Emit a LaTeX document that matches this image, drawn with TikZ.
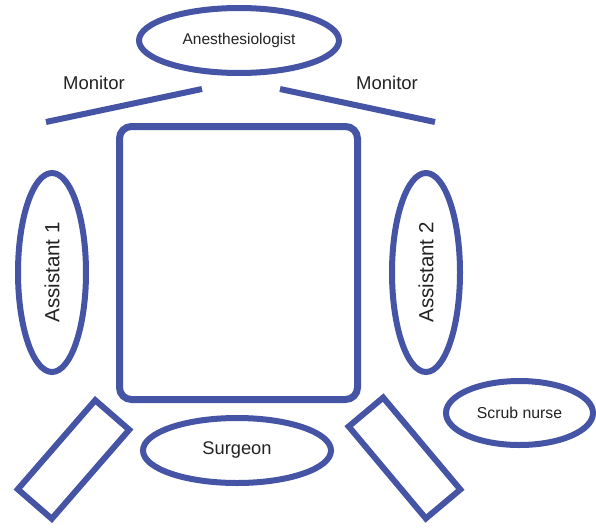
\documentclass[tikz,border=0pt]{standalone}
\usepackage{fontspec}
\setmainfont{Liberation Sans}
\usepackage{tikz}
\usetikzlibrary{positioning, shapes.geometric}
\definecolor{orblue}{RGB}{70, 84, 165}
\definecolor{ortext}{RGB}{35, 35, 35}

\begin{document}
\begin{tikzpicture}[
                x=1pt, y=-1pt,
                % Style for the staff (ellipses)
                staff/.style={
                    ellipse,
                    draw=orblue, line width=6pt,
                    fill=white,
                    text=ortext, inner sep=0pt
                },
                % Style for the operating table
                optable/.style={
                    rectangle, rounded corners=12pt,
                    draw=orblue, line width=7pt,
                    minimum width=238pt, minimum height=273pt
                },
                % Style for the instrument trays
                tray/.style={
                    rectangle,
                    draw=orblue, line width=6pt,
                    minimum height=45pt, inner sep=0pt
                },
                % Style for the monitor screens
                monitor/.style={
                    draw=orblue, line width=6pt
                },
                % Style for the monitor labels
                monlabel/.style={
                    text=ortext, font=\fontsize{18.5}{20}\selectfont
                }
            ]
                \useasboundingbox (0,0) rectangle (596,530);

                % 1. Table
                \node[optable] (table) at (238.5,263) {};

                % 2. Staff
                \node[staff, minimum width=200pt, minimum height=65pt,
                      font=\fontsize{15.5}{17}\selectfont] (anest) at (239,40.5) {Anesthesiologist};
                \node[staff, rotate=90, minimum width=199pt, minimum height=68pt,
                      font=\fontsize{20.5}{22}\selectfont] (ass1) at (52,272.5) {Assistant 1};
                \node[staff, rotate=90, minimum width=199pt, minimum height=68pt,
                      font=\fontsize{20.5}{22}\selectfont] (ass2) at (426,272.5) {Assistant 2};
                \node[staff, minimum width=188pt, minimum height=65pt,
                      font=\fontsize{18.3}{20}\selectfont] (surgeon) at (237,450.5) {Surgeon};
                \node[staff, minimum width=147pt, minimum height=64pt,
                      font=\fontsize{15.8}{17}\selectfont] (scrub) at (519.5,413) {Scrub nurse};

                % 3. Trays
                \node[tray, rotate=49, minimum width=118pt] (trayL) at (73.5,459.5) {};
                \node[tray, rotate=-50, minimum width=120pt] (trayR) at (404.5,458) {};

                % 4. Monitors
                \coordinate (monLa) at (46,122);
                \coordinate (monLb) at (202,89);
                \coordinate (monRa) at (280,89);
                \coordinate (monRb) at (435,122);
                \draw[monitor] (monLa) -- (monLb);
                \draw[monitor] (monRa) -- (monRb);
                \node[monlabel] (monLtxt) at (94,83) {Monitor};
                \node[monlabel] (monRtxt) at (387,83) {Monitor};

            \end{tikzpicture}
\end{document}
